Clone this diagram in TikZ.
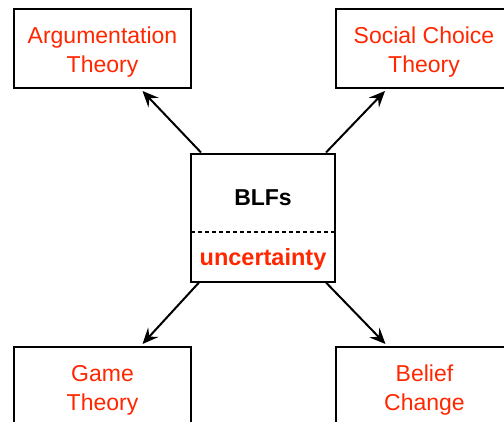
\documentclass[tikz,border=0pt]{standalone}
\usepackage{fontspec}
\setmainfont{Liberation Sans}
\usetikzlibrary{arrows.meta}
\definecolor{tred}{RGB}{255,38,0}
\begin{document}
\begin{tikzpicture}[x=1pt,y=-1pt,
  topic/.style={draw,line width=2pt,minimum width=177pt,minimum height=79pt,inner sep=0pt},
  topictext/.style={align=center,text=tred,inner sep=0pt,font=\fontsize{23}{29}\selectfont},
  arr/.style={line width=2pt,-{Stealth[length=16pt,width=14pt,inset=6pt]}}]
\useasboundingbox (0,0) rectangle (504,421);
\clip (0,0) rectangle (504,421);
\node[topic] (tl) at (102.5,48.5) {};
\node[topic] (tr) at (424,48.5) {};
\node[topic] (bl) at (102.5,386.5) {};
\node[topic] (br) at (424.5,386.5) {};
\node[topictext] (tlt) at ([yshift=-4pt]tl.center) {Argumentation\\Theory};
\node[topictext] (trt) at ([yshift=-4pt]tr.center) {Social Choice\\Theory};
\node[topictext] (blt) at ([yshift=-4pt]bl.center) {Game\\Theory};
\node[topictext] (brt) at ([yshift=-4pt]br.center) {Belief\\Change};
\node[draw,line width=2pt,minimum width=144pt,minimum height=128pt,inner sep=0pt] (c) at (263,217.5) {};
\node[font=\bfseries\fontsize{23}{27}\selectfont] (blfs) at (263,198) {BLFs};
\node[font=\bfseries\fontsize{23.5}{27}\selectfont,text=tred] (unc) at (263,259) {uncertainty};
\coordinate (dl) at (191,232);
\coordinate (dr) at (335,232);
\draw[line width=1.5pt,dash pattern=on 4pt off 3pt] (dl) -- (dr);
\draw[arr] ([xshift=11pt]c.north west) -- ([xshift=40pt,yshift=-2pt]tl.south);
\draw[arr] ([xshift=-10pt]c.north east) -- ([xshift=-39pt,yshift=-2pt]tr.south);
\draw[arr] ([xshift=9pt]c.south west) -- ([xshift=40pt,yshift=2pt]bl.north);
\draw[arr] ([xshift=-10pt]c.south east) -- ([xshift=-39pt,yshift=2pt]br.north);
\end{tikzpicture}
\end{document}
